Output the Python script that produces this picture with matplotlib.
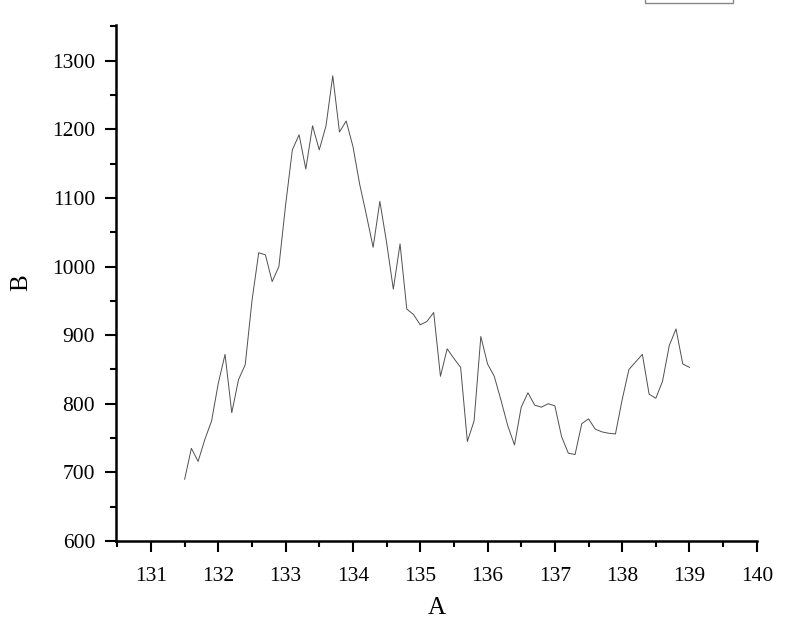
import numpy as np
import matplotlib
matplotlib.use("Agg")
import matplotlib.pyplot as plt
from matplotlib.ticker import MultipleLocator
from matplotlib.patches import Rectangle

plt.rcParams['font.family'] = ['Liberation Serif', 'DejaVu Serif']

# data
a_start, a_step = 131.5, 0.1
b_vals = [690, 735, 716, 748, 775, 830, 872, 787, 835, 857,
          950, 1020, 1017, 978, 1000, 1090, 1170, 1192, 1142, 1205,
          1170, 1205, 1278, 1196, 1212, 1175, 1120, 1075, 1028, 1095,
          1035, 967, 1033, 938, 930, 915, 920, 933, 840, 880,
          866, 853, 745, 775, 898, 858, 840, 805, 768, 740,
          795, 816, 798, 795, 800, 797, 752, 728, 726, 771,
          778, 763, 759, 757, 756, 806, 850, 861, 872, 814,
          808, 833, 885, 909, 858, 853]
a_vals = np.round(a_start + a_step * np.arange(len(b_vals)), 1)

fig = plt.figure(figsize=(8, 6.18), dpi=100)
ax = fig.add_axes([0.145, 0.1246, 0.801, 0.835])
ax.plot(a_vals, b_vals, color='#505050', linewidth=0.7)

ax.set_xlim(130.48, 140)
ax.set_ylim(600, 1352)
ax.xaxis.set_major_locator(MultipleLocator(1))
ax.xaxis.set_minor_locator(MultipleLocator(0.5))
ax.yaxis.set_major_locator(MultipleLocator(100))
ax.yaxis.set_minor_locator(MultipleLocator(50))

for s in ['top', 'right']:
    ax.spines[s].set_visible(False)
for s in ['left', 'bottom']:
    ax.spines[s].set_linewidth(1.8)

ax.tick_params(which='major', direction='out', length=8, width=1.5, labelsize=15.5, pad=7)
ax.tick_params(axis='x', which='major', pad=11)
ax.tick_params(which='minor', direction='out', length=4, width=1.5)

ax.set_xlabel('A', fontsize=18, labelpad=8)
ax.set_ylabel('B', fontsize=18, labelpad=14)

# legend frame cut off at the top of the picture
fig.patches.append(Rectangle((645 / 800, 1 - 3 / 618), 88 / 800, 0.05,
                             transform=fig.transFigure, fill=False,
                             edgecolor='#888888', linewidth=1.0))

fig.savefig('out.png', dpi=100)
